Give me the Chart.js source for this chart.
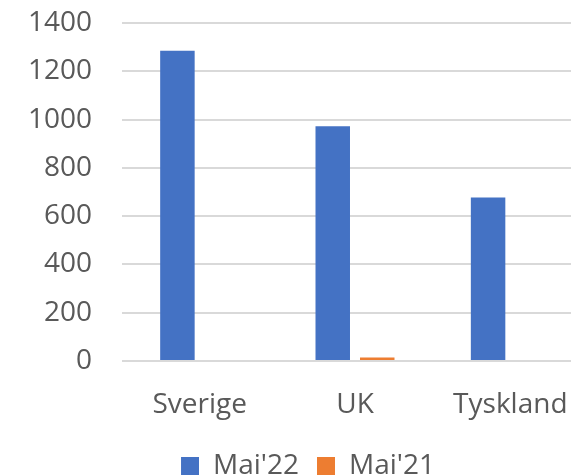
<!DOCTYPE html>
<html>
<head>
<meta charset="utf-8">
<script src="https://cdn.jsdelivr.net/npm/chart.js@4"></script>
<style>
  html, body { margin: 0; padding: 0; background: #fff; overflow: hidden; }
  #wrap { position: absolute; left: 0; top: 0; width: 635px; height: 490px; }
</style>
</head>
<body>
<div id="wrap"><canvas id="c" width="635" height="490"></canvas></div>
<script>
const categories = ["Sverige", "UK", "Tyskland"];
const mai22 = [1285, 972, 677];
const mai21 = [0, 15, 0];
const seriesNames = ["Mai'22", "Mai'21"];
const yTicks = [0, 200, 400, 600, 800, 1000, 1200, 1400];

const FONT = "'Open Sans', 'Liberation Sans', sans-serif";
const TEXT = "#595959";

new Chart(document.getElementById("c"), {
  type: "bar",
  data: {
    labels: categories,
    datasets: [
      { label: seriesNames[0], data: mai22, backgroundColor: "#4472C4" },
      { label: seriesNames[1], data: mai21, backgroundColor: "#ED7D31" }
    ]
  },
  options: {
    responsive: false,
    animation: false,
    devicePixelRatio: 1,
    categoryPercentage: 0.573,
    barPercentage: 0.775,
    layout: { padding: { left: 28, right: 47, top: 0, bottom: 0 } },
    plugins: {
      legend: {
        position: "bottom",
        labels: {
          font: { family: FONT, size: 28 },
          color: TEXT,
          boxWidth: 18,
          boxHeight: 18,
          padding: 18
        }
      },
      tooltip: { enabled: false }
    },
    scales: {
      x: {
        grid: { display: false, drawTicks: false },
        border: { display: false },
        ticks: { font: { family: FONT, size: 28 }, color: TEXT, padding: 27, maxRotation: 0 },
        afterFit: (axis) => { axis.height = 73; }
      },
      y: {
        min: yTicks[0],
        max: yTicks[yTicks.length - 1],
        afterBuildTicks: (axis) => { axis.ticks = yTicks.map(v => ({ value: v })); },
        grid: { color: "#d9d9d9", lineWidth: 2, drawTicks: false },
        border: { display: false },
        ticks: { font: { family: FONT, size: 28 }, color: TEXT, padding: 30, callback: (v) => String(v) },
        afterFit: (axis) => { axis.width = 94; axis.paddingTop = 23; axis.paddingBottom = 17; }
      }
    }
  }
});
</script>
</body>
</html>
